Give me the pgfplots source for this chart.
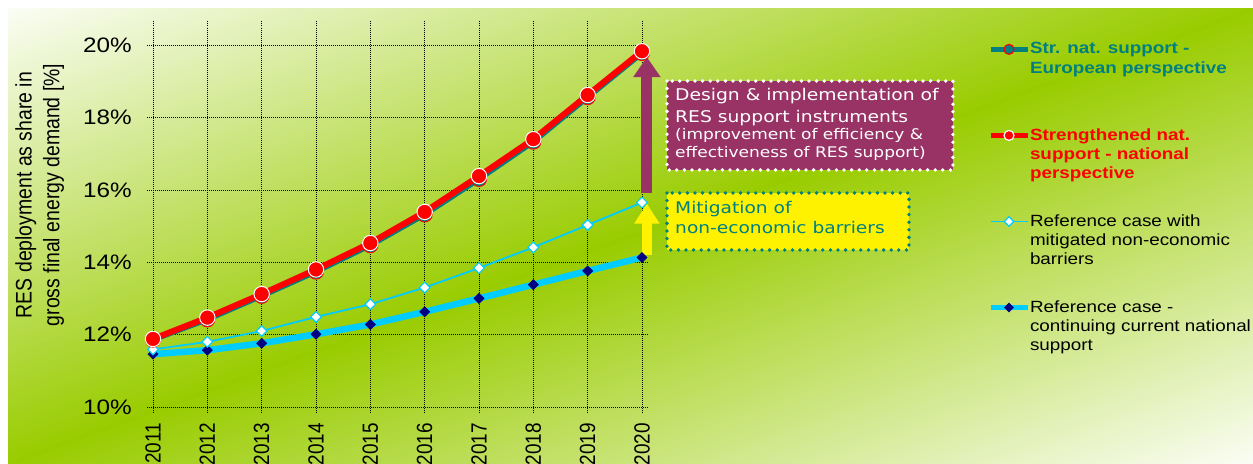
\documentclass[border=0pt]{standalone}
\usepackage{fontspec}
\setmainfont{Liberation Sans}[FakeStretch=1.16]
\newfontfamily\plainsans{Liberation Sans}
\newfontfamily\boxfont{DejaVu Sans}[FakeStretch=1.16]
\usepackage{graphicx}
\usepackage{pgfplots}
\pgfplotsset{compat=1.18}
\usetikzlibrary{arrows.meta}
\definecolor{bgG}{HTML}{99CC00}
\definecolor{teal8}{HTML}{008080}
\definecolor{purp}{HTML}{993366}
\definecolor{sky}{HTML}{00CCFF}
\definecolor{navy8}{HTML}{000080}
\newcommand\yr[1]{\scalebox{1.16}[1]{\rotatebox{90}{\plainsans\fontsize{19}{19}\selectfont #1}}}

\begin{document}
\begin{tikzpicture}[x=1bp,y=1bp]
\useasboundingbox (0,0) rectangle (1253,464);
\fill[white] (0,0) rectangle (1253,464);
\begin{scope}
\clip (8,0) rectangle (1253,455);
\begin{scope}[shift={(630.5,227.5)}, rotate=20.07]
\foreach \s in {-470,-466,...,470}{
  \pgfmathsetmacro\p{max(0,100-abs(\s+2)/4.45)}
  \fill[bgG!\p!white] (-800,\s) rectangle (800,\s+5);
}
\end{scope}
\end{scope}

\begin{axis}[
  at={(153bp,57bp)}, anchor=south west,
  scale only axis, width=489bp, height=380bp,
  xmin=2011, xmax=2020, ymin=10, ymax=20.5,
  clip=false,
  axis line style={draw=none},
  xtick={2011,2012,2013,2014,2015,2016,2017,2018,2019,2020},
  xticklabels={\yr{2011},\yr{2012},\yr{2013},\yr{2014},\yr{2015},\yr{2016},\yr{2017},\yr{2018},\yr{2019},\yr{2020}},
  ytick={10,12,14,16,18,20},
  yticklabels={10\%,12\%,14\%,16\%,18\%,20\%},
  grid=major,
  grid style={black, line width=0.6bp, dash pattern=on 1bp off 1bp},
  tick align=outside,
  major tick length=6bp,
  tick style={black, line width=0.6bp, dash pattern=on 1bp off 1bp},
  yticklabel style={font=\fontsize{21}{21}\selectfont, anchor=east, inner sep=0pt, xshift=-15bp},
  xticklabel style={anchor=north, inner sep=0pt, yshift=-10bp},
  legend style={at={(axis description cs:1.7076,0.9645)}, anchor=north west,
    draw=none, fill=none, inner sep=0pt, outer sep=0pt,
    row sep=28.4bp, column sep=0bp,
    font=\fontsize{16.3}{19.3}\selectfont,
    nodes={inner sep=0pt, outer sep=0pt, text depth=},
    cells={anchor=base west}},
  legend image code/.code={%
    \draw[mark repeat=2,mark phase=2,#1] plot coordinates {(0bp,4.6bp) (18.5bp,4.6bp) (37bp,4.6bp)};},
]
\addlegendimage{teal8, line width=5bp, mark=*, mark size=5bp, mark options={fill=teal8, draw=red, line width=1.2bp}}
\addlegendentry{\color{teal8}\bfseries\parbox[t]{230bp}{\strut Str. nat. support -\\European perspective\\\strut}}
\addlegendimage{red, line width=5bp, mark=*, mark size=5bp, mark options={fill=red, draw=white, line width=1.2bp}}
\addlegendentry{\color{red}\bfseries\parbox[t]{230bp}{\strut Strengthened nat.\\support - national\\perspective\strut}}
\addlegendimage{sky, line width=1.8bp, mark=square*, mark size=3.4bp, mark options={rotate=45, fill=white, draw=sky, line width=1.2bp}}
\addlegendentry{\parbox[t]{230bp}{\strut Reference case with\\mitigated non-economic\\barriers\strut}}
\addlegendimage{sky, line width=5bp, mark=square*, mark size=3.2bp, mark options={rotate=45, fill=navy8, draw=navy8, line width=0.5bp}}
\addlegendentry{\parbox[t]{230bp}{\strut Reference case -\\continuing current national\\support\strut}}

% annotation arrows
\draw[purp, line width=11bp, -{Triangle[length=20bp 0 0,width=26bp 0 0]}] (axis cs:2020.09,15.91) -- (axis cs:2020.09,19.67);
\draw[yellow, line width=10bp, -{Triangle[length=20bp 0 0,width=24bp 0 0]}] (axis cs:2020.09,14.20) -- (axis cs:2020.09,15.62);

% Reference case - continuing current national support
\addplot[forget plot, sky, line width=6.5bp, mark=square*, mark size=3.6bp, mark options={rotate=45, fill=navy8, draw=navy8, line width=0.5bp}] coordinates {
(2011,11.46) (2012,11.57) (2013,11.76) (2014,12.01) (2015,12.28) (2016,12.63) (2017,13.00) (2018,13.38) (2019,13.76) (2020,14.13)};
% Reference case with mitigated non-economic barriers
\addplot[forget plot, sky, line width=1.8bp, mark=square*, mark size=3.8bp, mark options={rotate=45, fill=white, draw=sky, line width=1.2bp}] coordinates {
(2011,11.59) (2012,11.80) (2013,12.10) (2014,12.49) (2015,12.84) (2016,13.30) (2017,13.84) (2018,14.41) (2019,15.03) (2020,15.65)};
% Str. nat. support - European perspective
\addplot[forget plot, teal8, line width=5.5bp, mark=*, mark size=7.5bp, mark options={fill=teal8, draw=red, line width=1bp}] coordinates {
(2011,11.86) (2012,12.42) (2013,13.07) (2014,13.74) (2015,14.47) (2016,15.32) (2017,16.30) (2018,17.33) (2019,18.56) (2020,19.78)};
% Strengthened nat. support - national perspective
\addplot[forget plot, red, line width=6bp, mark=*, mark size=7.7bp, mark options={fill=red, draw=white, line width=1bp}] coordinates {
(2011,11.88) (2012,12.47) (2013,13.12) (2014,13.80) (2015,14.53) (2016,15.39) (2017,16.38) (2018,17.40) (2019,18.62) (2020,19.83)};
\end{axis}

% y axis title
\node[inner sep=0pt] at (40,269) {\scalebox{1.16}[1]{\rotatebox{90}{\plainsans\fontsize{19.5}{24}\selectfont\begin{tabular}{@{}c@{}}RES deployment as share in\\ gross final energy demand [\%]\end{tabular}}}};

% annotation boxes
\fill[purp] (667,383) rectangle (953,294);
\draw[white, line width=3.8bp, line cap=round, dash pattern=on 0bp off 7.6bp] (667,383) rectangle (953,294);
\node[anchor=base west, inner sep=0pt, white, font=\boxfont\fontsize{16.2}{16.2}\selectfont] at (675,363) {Design \& implementation of};
\node[anchor=base west, inner sep=0pt, white, font=\boxfont\fontsize{16.2}{16.2}\selectfont] at (675,341.7) {RES support instruments};
\node[anchor=base west, inner sep=0pt, white, font=\boxfont\fontsize{14.7}{14.7}\selectfont] at (675,324) {(improvement of efficiency \&};
\node[anchor=base west, inner sep=0pt, white, font=\boxfont\fontsize{14.7}{14.7}\selectfont] at (675,306.7) {effectiveness of RES support)};

\fill[yellow] (667,271) rectangle (909,214);
\draw[teal8, line width=3.8bp, line cap=round, dash pattern=on 0bp off 7.6bp] (667,271) rectangle (909,214);
\node[anchor=base west, inner sep=0pt, teal8, font=\boxfont\fontsize{16.1}{16.1}\selectfont] at (675,250) {Mitigation of};
\node[anchor=base west, inner sep=0pt, teal8, font=\boxfont\fontsize{16.1}{16.1}\selectfont] at (675,230) {non-economic barriers};
\end{tikzpicture}
\end{document}
